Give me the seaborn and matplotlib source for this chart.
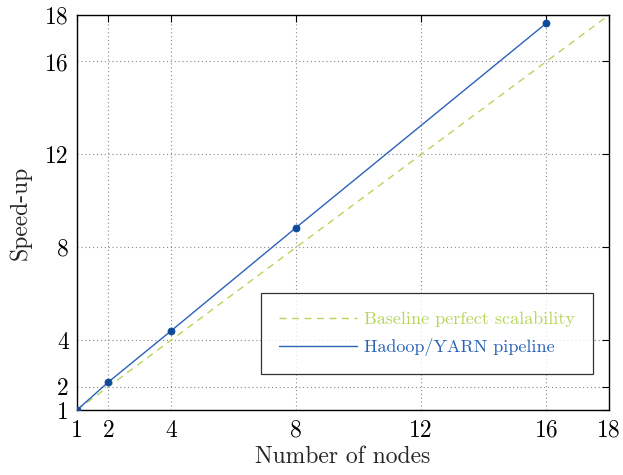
import matplotlib
matplotlib.use("Agg")
import matplotlib.pyplot as plt
import seaborn as sns
import pandas as pd

nodes = [1, 2, 4, 8, 16]
speedup = [1.0, 2.2, 4.4, 8.85, 17.65]
baseline_x = [1, 18]
baseline_y = [1, 18]
ticks = [1, 2, 4, 8, 12, 16, 18]

sns.set_theme(style="white")
plt.rcParams['font.family'] = ['cmr10', 'DejaVu Serif']
plt.rcParams['mathtext.fontset'] = 'cm'
plt.rcParams['axes.formatter.use_mathtext'] = True

green = "#b5d65a"
blue = "#2a62b8"
dark = "#0d4a9a"

fig = plt.figure(figsize=(6.23, 4.75), dpi=100)
ax = fig.add_axes([0.1236, 0.1368, 0.9775 - 0.1236, 0.9684 - 0.1368])

df_b = pd.DataFrame({"x": baseline_x, "y": baseline_y})
df_h = pd.DataFrame({"x": nodes, "y": speedup})
sns.lineplot(data=df_b, x="x", y="y", ax=ax, color=green, lw=1.0,
             linestyle=(0, (5, 4)), label="Baseline perfect scalability")
sns.lineplot(data=df_h, x="x", y="y", ax=ax, color=blue, lw=1.0,
             label="Hadoop/YARN pipeline")
sns.scatterplot(data=df_h, x="x", y="y", ax=ax, color=dark, s=26,
                edgecolor=dark, linewidth=0.5, zorder=5, legend=False)

ax.set_xlim(1, 18)
ax.set_ylim(1, 18)
ax.set_xticks(ticks)
ax.set_yticks(ticks)
ax.set_xticklabels([str(t) for t in ticks])
ax.set_yticklabels([str(t) for t in ticks])
ax.grid(True, color="#888888", linestyle=(0, (1, 2.5)), linewidth=0.8)
ax.tick_params(direction="in", length=5, width=0.8, top=True, right=True,
               labelsize=17, colors="black")
ax.tick_params(axis="y", pad=6)
ax.tick_params(axis="x", pad=7)
for s in ax.spines.values():
    s.set_color("black")
    s.set_linewidth(1.0)
ax.set_xlabel("Number of nodes", fontsize=17, labelpad=3)
ax.set_ylabel("Speed-up", fontsize=17, labelpad=10)

leg = ax.legend(loc="lower right", bbox_to_anchor=(0.97, 0.091), fontsize=13,
                frameon=True, fancybox=False, edgecolor="black", handlelength=4.3,
                handletextpad=0.4, borderpad=1.0, labelspacing=0.6, borderaxespad=0)
leg.get_frame().set_linewidth(0.9)
for txt, c in zip(leg.get_texts(), [green, blue]):
    txt.set_color(c)

fig.savefig("out.png", dpi=100)
